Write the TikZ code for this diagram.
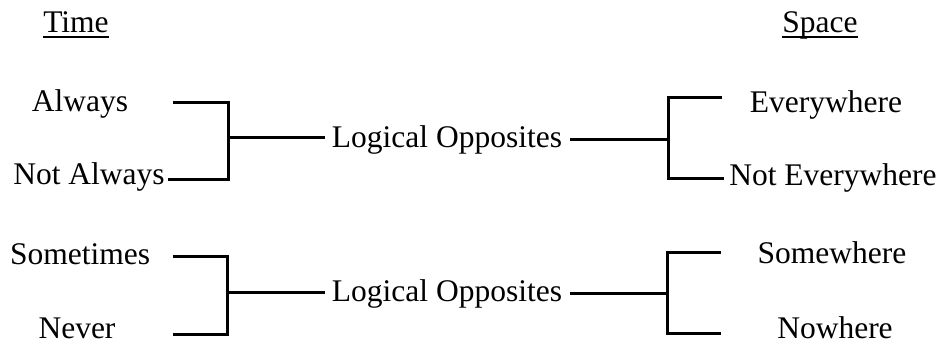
\documentclass[tikz,border=0pt]{standalone}
\usepackage{fontspec}
\setmainfont{Liberation Serif}
\begin{document}
\begin{tikzpicture}[x=1pt,y=-1pt,
  lbl/.style={inner sep=0pt,anchor=base,font=\fontsize{31.5}{36}\selectfont},
  brk/.style={line width=3pt,line join=miter,line cap=butt},
  uline/.style={line width=1.8pt}]
\useasboundingbox (0,0) rectangle (939,343);
% headings
\node[lbl] (time) at (76,32) {Time};
\node[lbl] (space) at (820,32) {Space};
\draw[uline] ([yshift=-5pt]time.base west) -- ([yshift=-5pt]time.base east);
\draw[uline] ([yshift=-5pt]space.base west) -- ([yshift=-5pt]space.base east);
% group 1
\node[lbl] (always) at (80,111) {Always};
\node[lbl] (notalways) at (89,184) {Not Always};
\node[lbl] (lo1) at (447,147) {Logical Opposites};
\node[lbl] (every) at (826,112) {Everywhere};
\node[lbl] (noteverywhere) at (833,185) {Not Everywhere};
% group 2
\node[lbl] (sometimes) at (80,264) {Sometimes};
\node[lbl] (never) at (77,338) {Never};
\node[lbl] (lo2) at (447,301) {Logical Opposites};
\node[lbl] (somewhere) at (832,263) {Somewhere};
\node[lbl] (nowhere) at (835,338) {Nowhere};
% bracket coordinates group 1
\coordinate (a1s) at (173,102);
\coordinate (a1t) at (228,102);
\coordinate (a1m) at (228,137);
\coordinate (a1b) at (228,179);
\coordinate (b1t) at (668,97);
\coordinate (b1m) at (668,139);
\coordinate (b1b) at (668,178);
\coordinate (b1e) at (722,97);
% bracket coordinates group 2
\coordinate (a2s) at (173,256);
\coordinate (a2t) at (227,256);
\coordinate (a2m) at (227,292);
\coordinate (a2b) at (227,334);
\coordinate (a2e) at (173,334);
\coordinate (b2t) at (667,252);
\coordinate (b2m) at (667,293);
\coordinate (b2b) at (667,333);
\coordinate (b2e) at (721,252);
\coordinate (b2f) at (721,333);
% group 1 connectors
\draw[brk] (a1s) -- (a1t) -- (a1b) -- ([xshift=3pt]notalways.east |- a1b);
\draw[brk] (a1m) -- ([xshift=-7pt]lo1.west |- a1m);
\draw[brk] ([xshift=8pt]lo1.east |- b1m) -- (b1m);
\draw[brk] (b1e) -- (b1t) -- (b1b) -- ([xshift=-5pt]noteverywhere.west |- b1b);
% group 2 connectors
\draw[brk] (a2s) -- (a2t) -- (a2b) -- (a2e);
\draw[brk] (a2m) -- ([xshift=-7pt]lo2.west |- a2m);
\draw[brk] ([xshift=8pt]lo2.east |- b2m) -- (b2m);
\draw[brk] (b2e) -- (b2t) -- (b2b) -- (b2f);
\end{tikzpicture}
\end{document}
